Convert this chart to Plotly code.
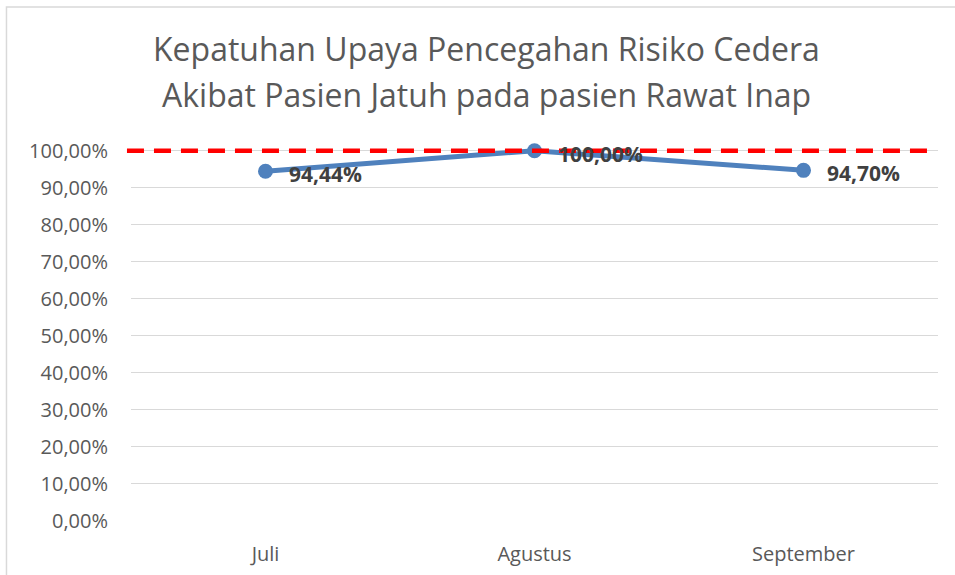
import plotly.graph_objs as go

months = ["Juli", "Agustus", "September"]
compliance = [0.9444, 1.0, 0.9470]
target_value = 1.0

title_lines = ["Kepatuhan Upaya Pencegahan Risiko Cedera",
               "Akibat Pasien Jatuh pada pasien Rawat Inap"]
label_text = [f"{v:.2%}".replace(".", ",") for v in compliance]

fig = go.Figure()

fig.add_trace(go.Scatter(
    x=months, y=compliance, mode="lines+markers",
    line=dict(color="#4f81bd", width=5),
    marker=dict(size=15, color="#4f81bd"),
    cliponaxis=False,
    showlegend=False,
))

for m, v, t in zip(months, compliance, label_text):
    fig.add_annotation(
        x=m, y=v, text=f"<b>{t}</b>", showarrow=False,
        xanchor="left", yanchor="middle", xshift=21, yshift=-3,
        font=dict(family="Open Sans", size=21, color="#404040"),
    )

# title as two lines, Excel-like spacing
for yy, line in zip([1.2625, 1.1395], title_lines):
    fig.add_annotation(
        x=0.4405, y=yy, xref="paper", yref="paper", text=line,
        showarrow=False, xanchor="center", yanchor="middle",
        font=dict(family="Open Sans", size=32, color="#595959"),
    )

fig.update_layout(
    width=955, height=575,
    margin=dict(l=131, r=17, t=147, b=54),
    plot_bgcolor="white", paper_bgcolor="white",
    separators=",.",
    xaxis=dict(
        range=[-0.5, 2.5], showgrid=False, showline=False, zeroline=False,
        ticks="", ticklabelstandoff=19,
        tickfont=dict(family="Open Sans", size=20, color="#595959"),
    ),
    yaxis=dict(
        # a little headroom so the 100% line is not clipped
        range=[0, 1.01], tick0=0, dtick=0.1, tickformat=".2%", showgrid=True,
        gridcolor="#d9d9d9", gridwidth=1.2, zeroline=False, showline=False,
        ticks="", ticklabelstandoff=22,
        tickfont=dict(family="Open Sans", size=20, color="#595959"),
    ),
    shapes=[
        dict(type="rect", xref="paper", yref="paper",
             x0=-0.1543, x1=1.1, y0=-0.3, y1=1.3743,
             line=dict(color="#d9d9d9", width=1.5), fillcolor="rgba(0,0,0,0)",
             layer="below"),
        dict(type="line", xref="paper", yref="y",
             x0=-0.005, x1=0.988, y0=target_value, y1=target_value,
             line=dict(color="#ff0000", width=4.5, dash="17px,10px")),
    ],
)
fig.update_yaxes(automargin=False)
fig.update_xaxes(automargin=False)

fig.write_html("out.html", config={"displayModeBar": False},
               post_script="document.body.style.margin='0';")
